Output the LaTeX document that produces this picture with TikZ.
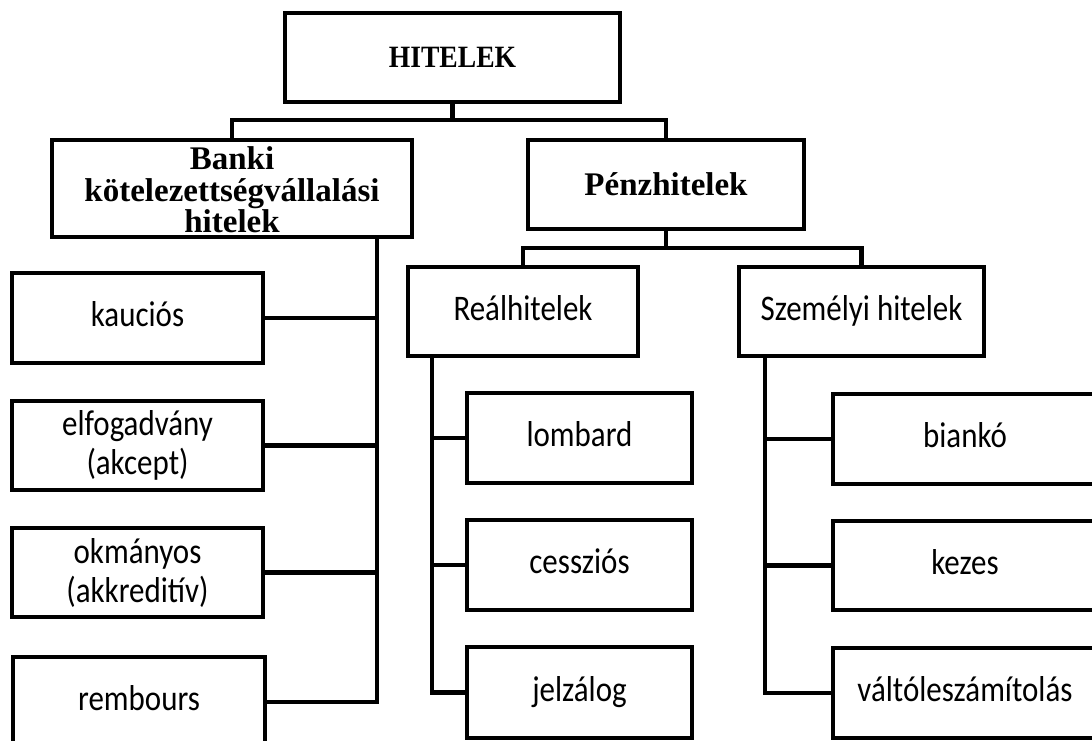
\documentclass[tikz,border=0pt]{standalone}
\usepackage{fontspec}
\setmainfont{Liberation Serif}
\newfontfamily\leaffont[FakeStretch=0.86]{Carlito}
\begin{document}
\begin{tikzpicture}[x=1pt,y=-1pt,
  box/.style={draw, line width=4.5pt, line join=miter, inner sep=0pt, outer sep=0pt},
  head/.style={box, font=\rmfamily\bfseries\fontsize{33}{31.5}\selectfont, align=center},
  leaf/.style={box, font=\leaffont\fontsize{36}{39}\selectfont, align=center},
  one/.style={text height=25pt, text depth=8pt},
  link/.style={line width=4.5pt, line cap=rect}]
\clip (0,0) rectangle (1092,741);
\fill[white] (0,0) rectangle (1092,741);
% top levels
\node[head, text height=20pt, text depth=0pt, minimum width=335pt, minimum height=89pt] (hit) at (452.5,57.5) {\scalebox{0.89}[1]{\fontsize{31}{31}\selectfont HITELEK}};
\node[head, minimum width=360pt, minimum height=97pt] (banki) at (232,188.5) {\rule{0pt}{26pt}Banki\\kötelezettségvállalási\\hitelek};
\node[head, text height=23pt, text depth=2pt, minimum width=276pt, minimum height=89pt] (penz) at (666,184.5) {Pénzhitelek};
\node[leaf, one, minimum width=230pt, minimum height=89pt] (real) at (523,311.5) {Reálhitelek};
\node[leaf, one, minimum width=245pt, minimum height=89pt] (szem) at (861.5,311.5) {Személyi hitelek};
% left column
\node[leaf, one, minimum width=251pt, minimum height=90pt] (kauc) at (137.5,318) {kauciós};
\node[leaf, minimum width=251pt, minimum height=89pt] (elf) at (137.5,445.5) {elfogadvány\\(akcept)};
\node[leaf, minimum width=251pt, minimum height=89pt] (okm) at (137.5,572.5) {okmányos\\(akkreditív)};
\node[leaf, one, minimum width=252pt, minimum height=90pt] (remb) at (139,702) {rembours};
% middle column
\node[leaf, one, minimum width=225pt, minimum height=90pt] (lomb) at (579.5,438) {lombard};
\node[leaf, one, minimum width=225pt, minimum height=90pt] (cess) at (579.5,565) {cessziós};
\node[leaf, one, minimum width=225pt, minimum height=91pt] (jelz) at (579.5,692.5) {jelzálog};
% right column
\node[leaf, one, minimum width=264pt, minimum height=90pt] (bian) at (965,439) {biankó};
\node[leaf, one, minimum width=264pt, minimum height=89pt] (kez) at (965,565.5) {kezes};
\node[leaf, one, minimum width=264pt, minimum height=90pt] (valt) at (965,693) {váltóleszámítolás};
% bus coordinates
\coordinate (busA) at (452.5,120);
\coordinate (busB) at (666,248);
\coordinate (bkTop) at (377,237);
\coordinate (reTop) at (432,356);
\coordinate (szTop) at (765,356);
% connectors
\draw[link] (hit.south) -- (busA);
\draw[link] (banki.north) -- (banki.north |- busA) -- (penz.north |- busA) -- (penz.north);
\draw[link] (penz.south) -- (busB);
\draw[link] (real.north) -- (real.north |- busB) -- (szem.north |- busB) -- (szem.north);
\draw[link] (bkTop) |- (remb.east);
\draw[link] (kauc.east) -- (kauc.east -| bkTop);
\draw[link] (elf.east) -- (elf.east -| bkTop);
\draw[link] (okm.east) -- (okm.east -| bkTop);
\draw[link] (reTop) |- (jelz.west);
\draw[link] (lomb.west) -- (lomb.west -| reTop);
\draw[link] (cess.west) -- (cess.west -| reTop);
\draw[link] (szTop) |- (valt.west);
\draw[link] (bian.west) -- (bian.west -| szTop);
\draw[link] (kez.west) -- (kez.west -| szTop);
\end{tikzpicture}
\end{document}
